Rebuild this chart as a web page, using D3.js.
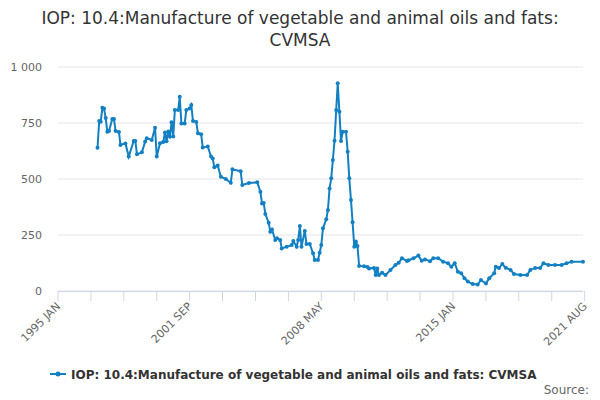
<!DOCTYPE html>
<html>
<head>
<meta charset="utf-8">
<script src="https://cdn.jsdelivr.net/npm/d3@7"></script>
<style>
body { margin: 0; background: #fff; font-family: "DejaVu Sans", sans-serif; }
</style>
</head>
<body>
<div id="chart"></div>
<script>
var title = ["IOP: 10.4:Manufacture of vegetable and animal oils and fats:", "CVMSA"];
var seriesName = "IOP: 10.4:Manufacture of vegetable and animal oils and fats: CVMSA";

var dates = ["1997-01","1997-02","1997-03","1997-04","1997-05","1997-06","1997-07","1997-08","1997-10","1997-11","1997-12",
"1998-02","1998-03","1998-06","1998-08","1998-11","1998-12","1999-01","1999-04","1999-06","1999-07","1999-10","1999-12",
"2000-01","2000-03","2000-05","2000-06","2000-07","2000-08","2000-09","2000-10","2000-11","2000-12",
"2001-02","2001-03","2001-04","2001-06","2001-07","2001-09","2001-10","2001-11",
"2002-01","2002-02","2002-04","2002-05","2002-08","2002-10","2002-11","2002-12",
"2003-02","2003-04","2003-07","2003-10","2003-11","2004-04","2004-05","2004-09",
"2005-02","2005-04","2005-05","2005-06","2005-07","2005-09","2005-10","2005-11",
"2006-01","2006-02","2006-04","2006-05","2006-08","2006-11","2006-12",
"2007-02","2007-03","2007-04","2007-05","2007-07","2007-08","2007-10","2007-12",
"2008-01","2008-03","2008-04","2008-05","2008-06","2008-08","2008-09","2008-10","2008-11","2008-12",
"2009-01","2009-02","2009-03","2009-04","2009-05","2009-06","2009-08","2009-09","2009-10","2009-11","2009-12",
"2010-01","2010-02","2010-03","2010-04","2010-07","2010-09","2010-10",
"2011-01","2011-02","2011-03","2011-04","2011-06","2011-08","2011-11",
"2012-02","2012-04","2012-06","2012-09","2012-10",
"2013-01","2013-04","2013-06","2013-08","2013-11",
"2014-01","2014-04","2014-07","2014-10","2014-12",
"2015-02","2015-04","2015-06","2015-08","2015-10",
"2016-01","2016-04","2016-06","2016-09","2016-11",
"2017-02","2017-03","2017-05","2017-07","2017-09","2017-12",
"2018-02","2018-06","2018-10","2018-12",
"2019-03","2019-06","2019-08","2019-11",
"2020-03","2020-07","2020-10","2021-01","2021-08"];

var values = [640,759,756,818,815,772,711,714,768,768,714,
710,652,659,600,670,670,610,619,667,682,674,729,
600,660,665,708,668,712,689,753,690,808,
808,867,748,748,808,815,830,759,
755,704,700,641,645,600,592,552,
560,510,500,483,543,535,473,482,
485,443,391,393,344,305,265,275,
228,235,228,190,198,205,223,
198,228,290,198,268,210,210,168,
138,138,171,205,280,320,362,458,503,585,
671,808,927,800,670,711,711,622,503,406,307,
198,220,201,112,110,107,100,
103,71,100,71,82,71,94,
116,126,146,134,137,
146,158,135,141,133,
146,146,131,124,108,
124,86,79,57,42,
31,29,49,33,57,
79,108,103,120,104,94,
76,71,71,94,
103,103,124,116,
116,116,124,131,131];

var yTicks = [0, 250, 500, 750, 1000];
var xLabels = ["1995 JAN", "2001 SEP", "2008 MAY", "2015 JAN", "2021 AUG"];

var width = 600, height = 400;
var margin = { top: 67, left: 58, right: 17, bottom: 109 };
var parse = d3.timeParse("%Y-%m");
var data = dates.map(function(d, i) { return { date: parse(d), value: values[i] }; });

var svg = d3.select("#chart").append("svg")
	.attr("width", width)
	.attr("height", height);

var x = d3.scaleTime()
	.domain([parse("1995-01"), parse("2021-08")])
	.range([margin.left, width - margin.right]);
var y = d3.scaleLinear()
	.domain([0, 1000])
	.range([height - margin.bottom, margin.top]);

// title
svg.selectAll(".title").data(title).join("text")
	.attr("x", width / 2)
	.attr("y", function(d, i) { return 24 + i * 22; })
	.attr("text-anchor", "middle")
	.attr("font-size", "17px")
	.attr("fill", "#333")
	.text(function(d) { return d; });

// grid + y labels
svg.append("g").selectAll("line").data(yTicks).join("line")
	.attr("x1", margin.left).attr("x2", width - margin.right)
	.attr("y1", function(d) { return y(d); }).attr("y2", function(d) { return y(d); })
	.attr("stroke", "#e6e6e6");
svg.append("g").selectAll("text").data(yTicks).join("text")
	.attr("x", margin.left - 16)
	.attr("y", function(d) { return y(d) + 4; })
	.attr("text-anchor", "end")
	.attr("font-size", "11px")
	.attr("fill", "#666")
	.text(function(d) { return d3.format(",")(d).replace(",", " "); });

// x axis: ticks every 20 months
var tickDates = d3.timeMonth.every(20).range(parse("1995-01"), parse("2021-09"));
tickDates = d3.range(0, 17).map(function(i) { return d3.timeMonth.offset(parse("1995-01"), i * 20); });
var xg = svg.append("g");
xg.append("line")
	.attr("x1", margin.left).attr("x2", width - margin.right)
	.attr("y1", y(0) + 0.5).attr("y2", y(0) + 0.5)
	.attr("stroke", "#ccd6eb");
xg.selectAll(".tick").data(tickDates).join("line")
	.attr("x1", function(d) { return x(d); }).attr("x2", function(d) { return x(d); })
	.attr("y1", y(0)).attr("y2", y(0) + 10)
	.attr("stroke", "#ccd6eb");
xg.selectAll("text").data(xLabels).join("text")
	.attr("transform", function(d, i) { return "translate(" + (x(tickDates[i * 4]) + 3) + "," + (y(0) + 16) + ") rotate(-45)"; })
	.attr("text-anchor", "end")
	.attr("font-size", "11px")
	.attr("fill", "#666")
	.text(function(d) { return d; });

// line
var color = "#1380c4";
svg.append("path").datum(data)
	.attr("fill", "none")
	.attr("stroke", color)
	.attr("stroke-width", 2)
	.attr("d", d3.line().x(function(d) { return x(d.date); }).y(function(d) { return y(d.value); }));
svg.append("g").selectAll("circle").data(data).join("circle")
	.attr("cx", function(d) { return x(d.date); })
	.attr("cy", function(d) { return y(d.value); })
	.attr("r", 2)
	.attr("fill", color);

// legend
var lg = svg.append("g").attr("transform", "translate(50,374)");
lg.append("line").attr("x1", 0).attr("x2", 16).attr("stroke", color).attr("stroke-width", 2);
lg.append("circle").attr("cx", 8).attr("r", 2.5).attr("fill", color);
lg.append("text").attr("x", 21).attr("y", 4.5)
	.attr("font-size", "12px").attr("font-weight", "bold").attr("fill", "#333")
	.text(seriesName);

svg.append("text")
	.attr("x", 589).attr("y", 394)
	.attr("text-anchor", "end")
	.attr("font-size", "12px").attr("fill", "#666")
	.text("Source:");
</script>
</body>
</html>
